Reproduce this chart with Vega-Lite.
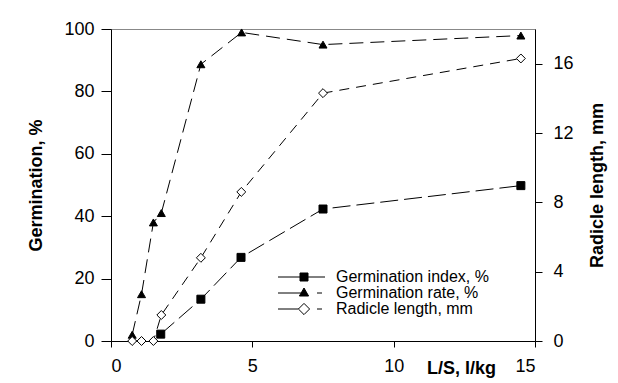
{
  "$schema": "https://vega.github.io/schema/vega-lite/v6.json",
  "width": 424,
  "height": 312,
  "autosize": {"type": "none"},
  "padding": {"left": 111, "top": 29, "right": 83, "bottom": 42},
  "background": "white",
  "config": {
    "font": "Liberation Sans",
    "view": {"stroke": "#888888", "strokeWidth": 1},
    "axis": {
      "grid": false,
      "domainColor": "black",
      "tickColor": "black",
      "labelColor": "black",
      "titleColor": "black",
      "labelFontSize": 18,
      "titleFontSize": 18,
      "titleFontWeight": "bold",
      "labelFont": "Liberation Sans",
      "titleFont": "Liberation Sans",
      "tickSize": 6
    },
    "legend": {"padding": 0, "labelFont": "Liberation Sans"}
  },
  "data": {
    "values": [
      {"series": "Germination index, %", "x": 1.76, "v": 2.2},
      {"series": "Germination index, %", "x": 3.18, "v": 13.4},
      {"series": "Germination index, %", "x": 4.6, "v": 26.8},
      {"series": "Germination index, %", "x": 7.5, "v": 42.3},
      {"series": "Germination index, %", "x": 14.5, "v": 49.8},
      {"series": "Germination rate, %", "x": 0.75, "v": 2},
      {"series": "Germination rate, %", "x": 1.08, "v": 15},
      {"series": "Germination rate, %", "x": 1.5, "v": 38},
      {"series": "Germination rate, %", "x": 1.78, "v": 41},
      {"series": "Germination rate, %", "x": 3.18, "v": 88.7},
      {"series": "Germination rate, %", "x": 4.62, "v": 98.9},
      {"series": "Germination rate, %", "x": 7.5, "v": 95},
      {"series": "Germination rate, %", "x": 14.5, "v": 97.9},
      {"series": "Radicle length, mm", "x": 0.75, "v": 0},
      {"series": "Radicle length, mm", "x": 1.08, "v": 0},
      {"series": "Radicle length, mm", "x": 1.5, "v": 0},
      {"series": "Radicle length, mm", "x": 1.78, "v": 1.5},
      {"series": "Radicle length, mm", "x": 3.18, "v": 4.8},
      {"series": "Radicle length, mm", "x": 4.61, "v": 8.6},
      {"series": "Radicle length, mm", "x": 7.5, "v": 14.3},
      {"series": "Radicle length, mm", "x": 14.5, "v": 16.3}
    ]
  },
  "encoding": {
    "x": {
      "field": "x",
      "type": "quantitative",
      "scale": {"domain": [0, 15], "nice": false},
      "axis": {"values": [0, 5, 10, 15], "title": "L/S, l/kg", "titleX": 350, "titleY": 18, "titleBaseline": "top", "labelPadding": 10}
    }
  },
  "layer": [
    {
      "transform": [{"filter": "datum.series !== 'Radicle length, mm'"}],
      "encoding": {
        "y": {
          "field": "v",
          "type": "quantitative",
          "scale": {"domain": [0, 100], "nice": false},
          "axis": {"orient": "left", "values": [0, 20, 40, 60, 80, 100], "title": "Germination, %", "tickSize": 10, "labelPadding": 7, "titlePadding": 18}
        }
      },
      "layer": [
        {
          "mark": {"type": "line", "color": "black", "strokeWidth": 1},
          "encoding": {
            "strokeDash": {
              "field": "series",
              "type": "nominal",
              "scale": {"domain": ["Germination index, %", "Germination rate, %", "Radicle length, mm"], "range": [[18, 6], [14, 7], [10, 7]]},
              "legend": null
            }
          }
        },
        {
          "mark": {"type": "point", "filled": true, "stroke": "black", "strokeWidth": 1, "size": 64, "opacity": 1},
          "encoding": {
            "shape": {
              "field": "series",
              "type": "nominal",
              "scale": {"domain": ["Germination index, %", "Germination rate, %", "Radicle length, mm"], "range": ["square", "triangle-up", "diamond"]},
              "legend": null
            },
            "fill": {
              "field": "series",
              "type": "nominal",
              "scale": {"domain": ["Germination index, %", "Germination rate, %", "Radicle length, mm"], "range": ["black", "black", "white"]},
              "legend": null
            }
          }
        }
      ]
    },
    {
      "transform": [{"filter": "datum.series === 'Radicle length, mm'"}],
      "encoding": {
        "y": {
          "field": "v",
          "type": "quantitative",
          "scale": {"domain": [0, 18], "nice": false},
          "axis": {"orient": "right", "values": [0, 4, 8, 12, 16], "title": "Radicle length, mm", "titleAngle": 270, "tickSize": 7, "labelPadding": 11, "titlePadding": 33}
        }
      },
      "layer": [
        {
          "mark": {"type": "line", "color": "black", "strokeWidth": 1},
          "encoding": {
            "strokeDash": {"field": "series", "type": "nominal", "legend": null}
          }
        },
        {
          "mark": {"type": "point", "filled": true, "stroke": "black", "strokeWidth": 1, "size": 80, "opacity": 1},
          "encoding": {
            "shape": {
              "field": "series", "type": "nominal",
              "scale": {"domain": ["Germination index, %", "Germination rate, %", "Radicle length, mm"], "range": ["square", "triangle-up", "diamond"]},
              "legend": null
            },
            "fill": {
              "field": "series", "type": "nominal",
              "scale": {"domain": ["Germination index, %", "Germination rate, %", "Radicle length, mm"], "range": ["black", "black", "white"]},
              "legend": null
            }
          }
        }
      ]
    },
    {
      "transform": [{"filter": "false"}],
      "mark": {"type": "point", "filled": true, "strokeWidth": 1, "size": 64, "opacity": 1},
      "encoding": {
        "y": {"field": "v", "type": "quantitative", "scale": {"domain": [0, 100]}, "axis": null},
        "shape": {
          "field": "series",
          "type": "nominal",
          "scale": {
            "domain": ["Germination index, %", "Germination rate, %", "Radicle length, mm"],
            "range": ["M-6.5,0H5.25M-1,-1H1V1H-1Z", "M-6.5,0H-0.6M3.25,0H4.5M0,-1.25L1.15,0.75H-1.15Z", "M-6.5,0H-1.4M3.25,0H4.5M0,-1.4L1.4,0L0,1.4L-1.4,0Z"]
          },
          "legend": {
            "orient": "none", "legendX": 185, "legendY": 240, "title": null,
            "symbolSize": 64, "symbolStrokeWidth": 1,
            "labelFontSize": 16, "labelOffset": 24, "rowPadding": 0, "labelColor": "black"
          }
        },
        "fill": {
          "field": "series",
          "type": "nominal",
          "scale": {"domain": ["Germination index, %", "Germination rate, %", "Radicle length, mm"], "range": ["black", "black", "white"]},
          "legend": {
            "orient": "none", "legendX": 185, "legendY": 240, "title": null,
            "symbolSize": 64, "symbolStrokeWidth": 1,
            "labelFontSize": 16, "labelOffset": 24, "rowPadding": 0, "labelColor": "black"
          }
        },
        "stroke": {
          "field": "series",
          "type": "nominal",
          "scale": {"domain": ["Germination index, %", "Germination rate, %", "Radicle length, mm"], "range": ["black", "black", "black"]},
          "legend": {
            "orient": "none", "legendX": 185, "legendY": 240, "title": null,
            "symbolSize": 64, "symbolStrokeWidth": 1,
            "labelFontSize": 16, "labelOffset": 24, "rowPadding": 0, "labelColor": "black"
          }
        }
      }
    }
  ],
  "resolve": {"scale": {"y": "independent", "shape": "independent", "fill": "independent", "stroke": "independent"}}
}
